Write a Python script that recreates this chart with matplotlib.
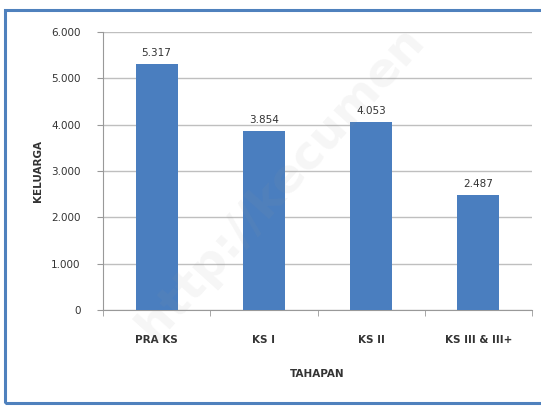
import matplotlib
matplotlib.use('Agg')
import matplotlib.pyplot as plt
from matplotlib.patches import Rectangle

categories = ['PRA KS', 'KS I', 'KS II', 'KS III & III+']
values = [5317, 3854, 4053, 2487]
yticks = [0, 1000, 2000, 3000, 4000, 5000, 6000]


def fmt(v):
    # thousands separator with a dot
    return f'{v:,}'.replace(',', '.')


fig = plt.figure(figsize=(5.41, 4.08), dpi=100)
fig.patch.set_facecolor('white')

# blue frame around the chart
fig.patches.append(Rectangle((5 / 541, 5 / 408), 545 / 541, 393 / 408,
                             transform=fig.transFigure, fill=False,
                             edgecolor='#4F81BD', linewidth=2.2))

ax = fig.add_axes([103 / 541, 1 - 310 / 408, 429 / 541, 278 / 408])

x = range(len(categories))
bars = ax.bar(x, values, width=0.39, color='#4A7EBF', zorder=3)

ax.set_xlim(-0.5, len(categories) - 0.5)
ax.set_ylim(0, 6000)
ax.set_yticks(yticks)
ax.set_yticklabels([fmt(v) for v in yticks], fontsize=7.5, color='#333333')
ax.yaxis.grid(True, color='#BFBFBF', linewidth=1, zorder=0)

ax.set_xticks(list(x))
ax.set_xticklabels(categories, fontsize=7.5, fontweight='bold', color='#333333')
ax.tick_params(axis='x', length=0, pad=18)
ax.tick_params(axis='y', length=4, color='#999999', pad=12)
ax.set_xticks([i + 0.5 for i in range(-1, len(categories))], minor=True)
ax.tick_params(axis='x', which='minor', length=4, color='#999999')

for s in ['top', 'right']:
    ax.spines[s].set_visible(False)
ax.spines['left'].set_color('#999999')
ax.spines['bottom'].set_color('#999999')

for b, v in zip(bars, values):
    ax.text(b.get_x() + b.get_width() / 2, v + 130, fmt(v),
            ha='center', va='bottom', fontsize=7.5, color='#333333')

ax.set_xlabel('TAHAPAN', fontsize=7.5, fontweight='bold', labelpad=17, color='#333333')
ax.set_ylabel('KELUARGA', fontsize=7.5, fontweight='bold', labelpad=6, color='#333333')

# faint watermark
fig.text(0.52, 0.55, 'http://kecumen', rotation=48, fontsize=34, fontweight='bold',
         color='#999999', alpha=0.09, ha='center', va='center', zorder=10)

fig.savefig('out.png', dpi=100, facecolor='white')
